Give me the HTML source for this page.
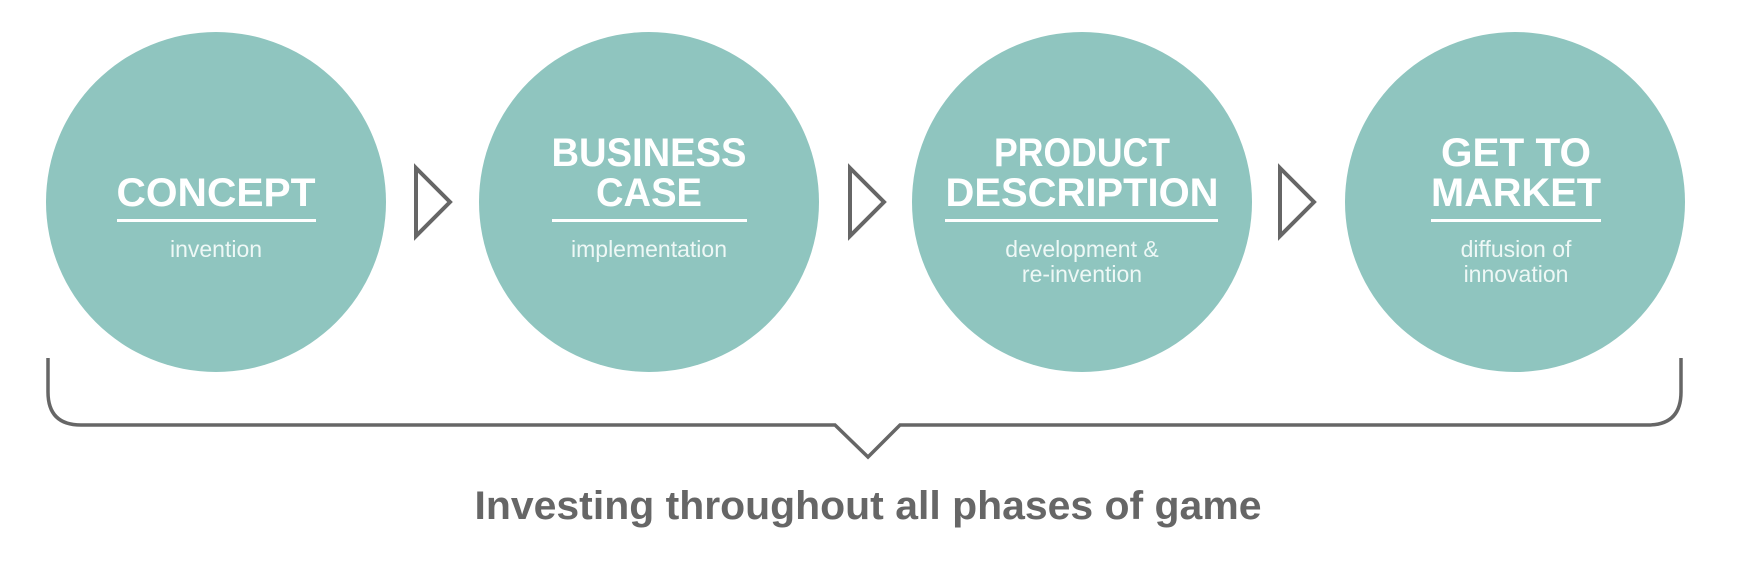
<!DOCTYPE html>
<html><head><meta charset="utf-8"><style>
html,body{margin:0;padding:0;background:#fff;}
svg{display:block;}
.t{font-family:"Liberation Sans",sans-serif;fill:#fff;text-anchor:middle;}
.h{font-size:40px;font-weight:bold;}
.s{font-size:23px;fill:#eef8f6;}
</style></head><body>
<svg width="1740" height="580" viewBox="0 0 1740 580">
<g fill="#8fc5bf">
<circle cx="216" cy="202" r="170"/>
<circle cx="649" cy="202" r="170"/>
<circle cx="1082" cy="202" r="170"/>
<circle cx="1515" cy="202" r="170"/>
</g>
<g fill="none" stroke="#666" stroke-width="4">
<path d="M416 168 L450 202 L416 236 Z"/>
<path d="M850 168 L884 202 L850 236 Z"/>
<path d="M1280 168 L1314 202 L1280 236 Z"/>
<path d="M48 358 V392 Q48 425 81 425 H835 L868 457 L900 425 H1648 Q1681 425 1681 392 V358" stroke-width="3.5"/>
</g>
<g fill="#fff">
<rect x="117" y="219" width="199" height="3"/>
<rect x="552" y="219" width="195" height="3"/>
<rect x="945" y="219" width="273" height="3"/>
<rect x="1431" y="219" width="170" height="3"/>
</g>
<text class="t h" x="216" y="206" textLength="199" lengthAdjust="spacingAndGlyphs">CONCEPT</text>
<text class="t s" x="216" y="257">invention</text>
<text class="t h" x="649" y="166" textLength="195" lengthAdjust="spacingAndGlyphs">BUSINESS</text>
<text class="t h" x="649" y="206" textLength="106" lengthAdjust="spacingAndGlyphs">CASE</text>
<text class="t s" x="649" y="257">implementation</text>
<text class="t h" x="1082" y="166" textLength="176" lengthAdjust="spacingAndGlyphs">PRODUCT</text>
<text class="t h" x="1082" y="206" textLength="273" lengthAdjust="spacingAndGlyphs">DESCRIPTION</text>
<text class="t s" x="1082" y="257">development &amp;</text>
<text class="t s" x="1082" y="282">re-invention</text>
<text class="t h" x="1516" y="166" textLength="150" lengthAdjust="spacingAndGlyphs">GET TO</text>
<text class="t h" x="1516" y="206" textLength="170" lengthAdjust="spacingAndGlyphs">MARKET</text>
<text class="t s" x="1516" y="257">diffusion of</text>
<text class="t s" x="1516" y="282">innovation</text>
<text x="868" y="519" text-anchor="middle" font-family="Liberation Sans, sans-serif" font-weight="bold" font-size="40" fill="#666" textLength="787" lengthAdjust="spacingAndGlyphs">Investing throughout all phases of game</text>
</svg>
</body></html>
